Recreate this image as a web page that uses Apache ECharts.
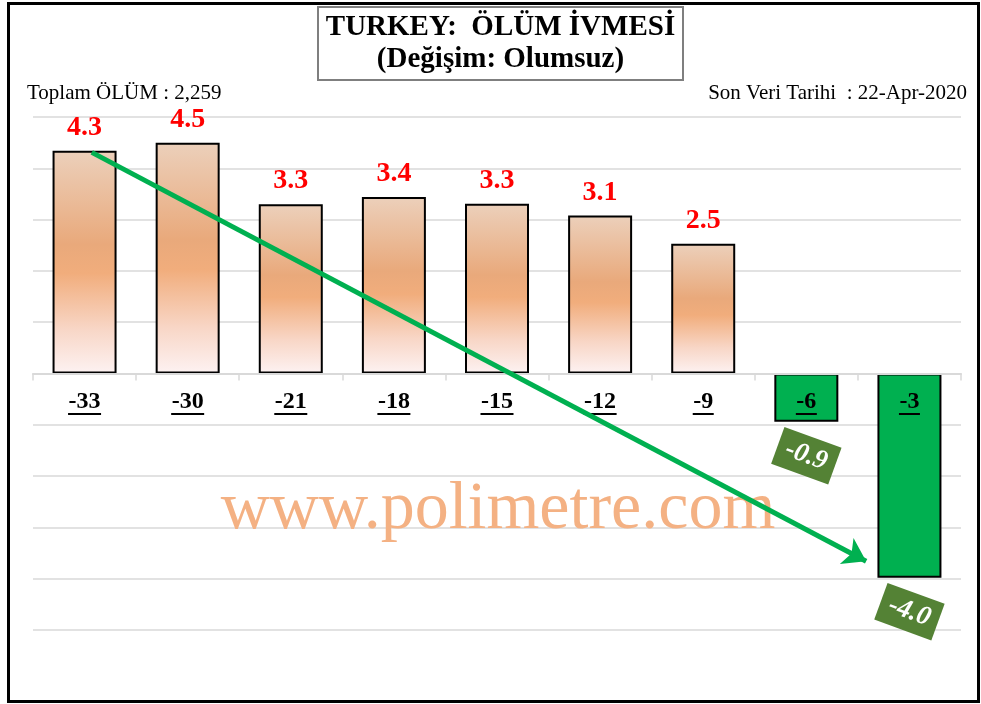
<!DOCTYPE html>
<html>
<head>
<meta charset="utf-8">
<script src="https://cdn.jsdelivr.net/npm/echarts@6/dist/echarts.min.js"></script>
<style>
  html, body { margin: 0; padding: 0; background: #fff; }
  #chart { width: 981px; height: 704px; }
</style>
</head>
<body>
<div id="chart"></div>
<script>
// days before last data point, and the change of the death acceleration
var days = ['-33', '-30', '-21', '-18', '-15', '-12', '-9', '-6', '-3'];
var change = [4.34, 4.5, 3.3, 3.44, 3.31, 3.08, 2.53, -0.94, -3.98];
// hand drawn trend arrow (category index, value)
var trendX = [0.07, 7.58];
var trendY = [4.31, -3.66];
var yMin = -5, yMax = 5, yStep = 1;

var serif = '"Liberation Serif", "Times New Roman", serif';

var posFill = new echarts.graphic.LinearGradient(0, 0, 0, 1, [
  { offset: 0, color: '#ecd0bb' },
  { offset: 0.42, color: '#e9a97b' },
  { offset: 0.55, color: '#f1ad7c' },
  { offset: 0.8, color: '#f8d6c6' },
  { offset: 1, color: '#fdf2f2' }
]);

var fmt = function (p) { return p.value.toFixed(1); };

var barData = change.map(function (v) {
  if (v >= 0) {
    return {
      value: v,
      itemStyle: { color: posFill, borderColor: '#000', borderWidth: 2 },
      label: {
        show: true, position: 'top', distance: 9,
        color: '#ff0000', fontSize: 28, fontWeight: 'bold', fontFamily: serif,
        formatter: fmt
      }
    };
  }
  return {
    value: v,
    itemStyle: { color: '#00b050', borderColor: '#000', borderWidth: 2 },
    label: {
      show: true, position: 'bottom', distance: 34, rotate: -20,
      verticalAlign: 'middle',
      color: '#fff', fontSize: 27, fontWeight: 'bold', fontStyle: 'italic', fontFamily: serif,
      backgroundColor: '#548235', padding: [6, 9],
      formatter: fmt
    }
  };
});

// category labels sit on the zero line
var dayLabels = days.map(function (d, i) { return [i, 0]; });

var chart = echarts.init(document.getElementById('chart'));
chart.setOption({
  animation: false,
  backgroundColor: '#fff',
  title: [
    {
      text: 'Toplam ÖLÜM : 2,259',
      left: 27, top: 83, padding: 0,
      textStyle: { fontFamily: serif, fontSize: 21, fontWeight: 'normal', color: '#000' }
    },
    {
      text: 'Son Veri Tarihi  : 22-Apr-2020',
      right: 14, top: 83, padding: 0,
      textStyle: { fontFamily: serif, fontSize: 21, fontWeight: 'normal', color: '#000' }
    }
  ],
  grid: { left: 33, right: 20, top: 117, bottom: 74, outerBoundsMode: 'none' },
  xAxis: [
    {
      type: 'category', data: days, z: 3,
      axisLine: { onZero: true, lineStyle: { color: '#d9d9d9', width: 2 } },
      axisTick: { show: true, length: 7, lineStyle: { color: '#d9d9d9', width: 1.5 } },
      axisLabel: { show: false }
    },
    { type: 'value', min: -0.5, max: days.length - 0.5, show: false }
  ],
  yAxis: {
    type: 'value', min: yMin, max: yMax, interval: yStep,
    axisLabel: { show: false }, axisLine: { show: false }, axisTick: { show: false },
    splitLine: { lineStyle: { color: '#d9d9d9', width: 1.5 } }
  },
  graphic: [
    {
      type: 'rect', z: 0, silent: true,
      shape: { x: 8.5, y: 3.5, width: 970, height: 698 },
      style: { fill: null, stroke: '#000', lineWidth: 3 }
    },
    {
      type: 'rect', z: 0, silent: true,
      shape: { x: 318, y: 7, width: 365, height: 73 },
      style: { fill: '#fff', stroke: '#7f7f7f', lineWidth: 2 }
    },
    {
      type: 'text', z: 1, silent: true,
      x: 500.5, y: 44,
      style: {
        text: 'TURKEY:  ÖLÜM İVMESİ\n(Değişim: Olumsuz)', fill: '#000',
        font: 'bold 29px ' + serif, lineHeight: 32,
        align: 'center', verticalAlign: 'middle'
      }
    },
    {
      type: 'text', z: 1, silent: true,
      x: 498, y: 510,
      style: {
        text: 'www.polimetre.com', fill: '#f4b183',
        font: '68px ' + serif, align: 'center', verticalAlign: 'middle'
      }
    }
  ],
  series: [
    {
      type: 'bar', data: barData, barWidth: 64, z: 2
    },
    {
      type: 'scatter', data: dayLabels, symbolSize: 1, z: 4, silent: true,
      itemStyle: { color: 'rgba(0,0,0,0)', opacity: 1 },
      label: {
        show: true, position: 'bottom', distance: 17,
        color: '#000', fontSize: 24, fontWeight: 'bold', fontFamily: serif,
        formatter: function (p) {
          var d = days[p.dataIndex];
          return '{t|' + d + '}\n{u' + d.length + '| }';
        },
        rich: {
          t: { fontFamily: serif, fontSize: 24, fontWeight: 'bold', color: '#000', lineHeight: 22 },
          u2: { width: 21, height: 2, lineHeight: 2, fontSize: 1, backgroundColor: '#000' },
          u3: { width: 33, height: 2, lineHeight: 2, fontSize: 1, backgroundColor: '#000' }
        }
      }
    },
    {
      type: 'lines', coordinateSystem: 'cartesian2d', xAxisIndex: 1, yAxisIndex: 0, z: 5,
      symbol: ['none', 'arrow'], symbolSize: 22,
      lineStyle: { color: '#00b050', width: 5, opacity: 1 },
      data: [{ coords: [[trendX[0], trendY[0]], [trendX[1], trendY[1]]] }]
    }
  ]
});
</script>
</body>
</html>
